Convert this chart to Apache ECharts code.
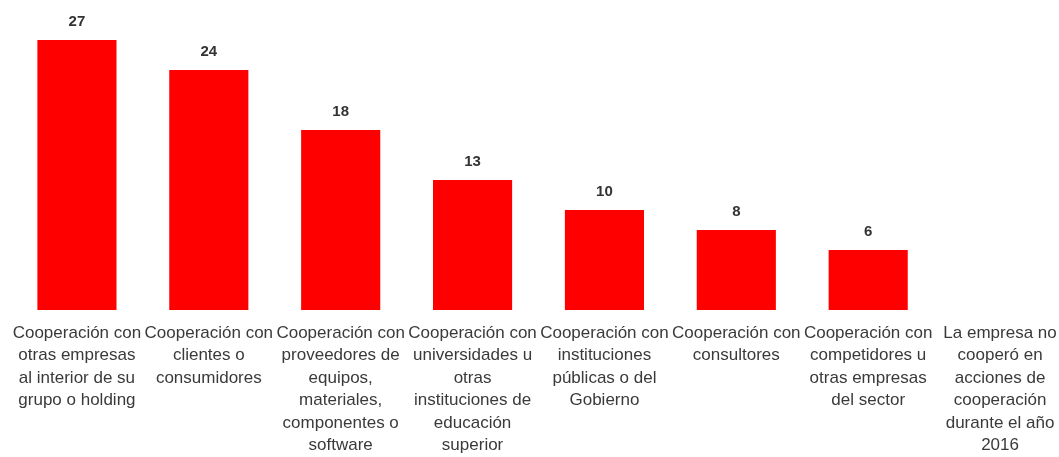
<!DOCTYPE html>
<html>
<head>
<meta charset="utf-8">
<script src="https://cdn.jsdelivr.net/npm/echarts@6/dist/echarts.min.js"></script>
<style>
  html, body { margin: 0; padding: 0; background: #ffffff; }
  #chart { width: 1059px; height: 457px; }
</style>
</head>
<body>
<div id="chart"></div>
<script>
// Tipos de cooperación en actividades de innovación (etiquetas con saltos de línea)
const categories = [
  'Cooperación con\notras empresas\nal interior de su\ngrupo o holding',
  'Cooperación con\nclientes o\nconsumidores',
  'Cooperación con\nproveedores de\nequipos,\nmateriales,\ncomponentes o\nsoftware',
  'Cooperación con\nuniversidades u\notras\ninstituciones de\neducación\nsuperior',
  'Cooperación con\ninstituciones\npúblicas o del\nGobierno',
  'Cooperación con\nconsultores',
  'Cooperación con\ncompetidores u\notras empresas\ndel sector',
  'La empresa no\ncooperó en\nacciones de\ncooperación\ndurante el año\n2016'
];
const values = [27, 24, 18, 13, 10, 8, 6, 0];

const chart = echarts.init(document.getElementById('chart'), null, { renderer: 'canvas' });

chart.setOption({
  backgroundColor: '#ffffff',
  animation: false,
  grid: {
    left: 11, width: 1055, top: 10, bottom: 147,
    containLabel: false,
    outerBoundsMode: 'none'
  },
  xAxis: {
    type: 'category',
    data: categories,
    axisLine: { show: false },
    axisTick: { show: false },
    axisLabel: {
      interval: 0,
      margin: 12,
      fontFamily: 'Liberation Sans, Arial, sans-serif',
      fontSize: 17,
      lineHeight: 22.5,
      color: '#3a3a3a',
      align: 'center'
    }
  },
  yAxis: {
    type: 'value',
    min: 0,
    max: 30,
    show: false,
    splitLine: { show: false }
  },
  series: [{
    type: 'bar',
    data: values,
    barWidth: '60%',
    itemStyle: { color: '#ff0000' },
    label: {
      show: true,
      position: 'top',
      distance: 11,
      fontFamily: 'Liberation Sans, Arial, sans-serif',
      fontSize: 15,
      fontWeight: 'bold',
      color: '#333333',
      formatter: p => (p.value > 0 ? String(p.value) : '')
    }
  }]
});
</script>
</body>
</html>
